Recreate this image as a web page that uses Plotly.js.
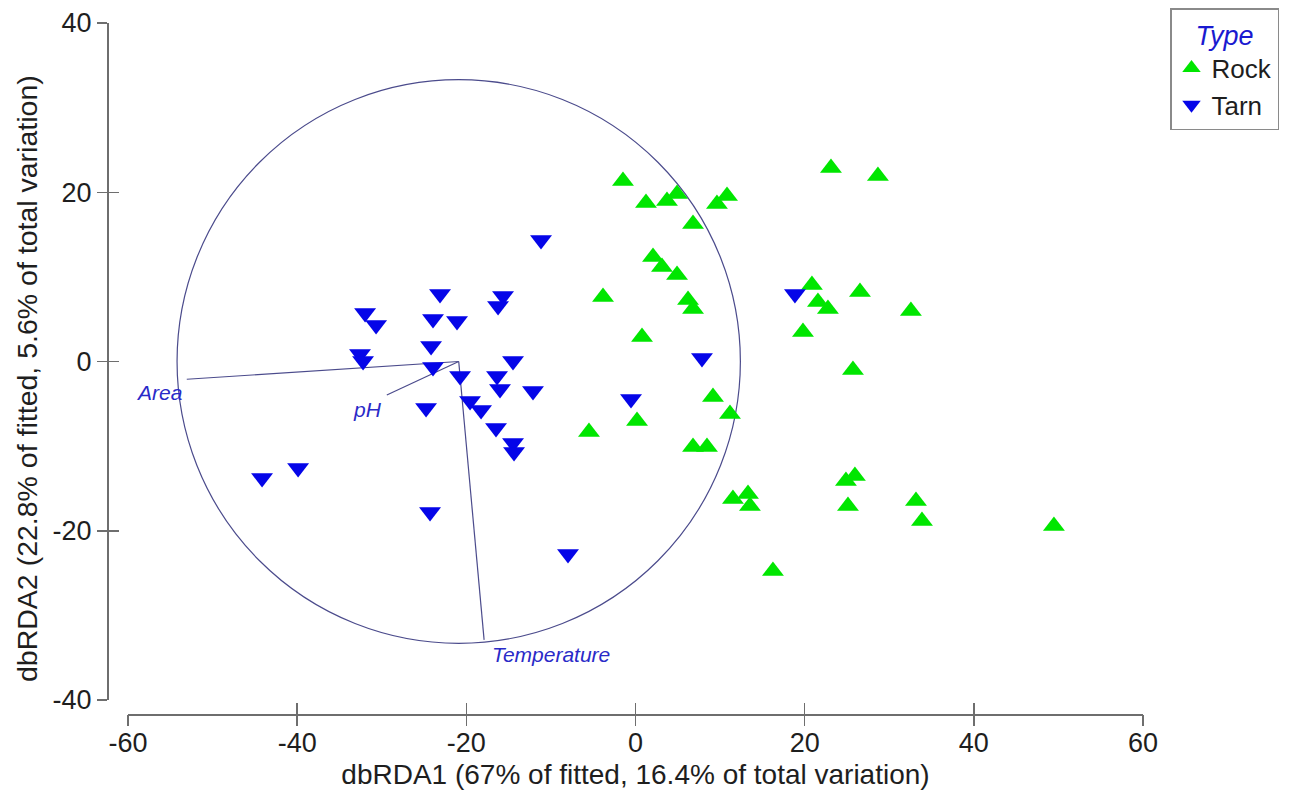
<!DOCTYPE html>
<html><head><meta charset="utf-8">
<script src="https://cdn.plot.ly/plotly-3.0.1.min.js"></script>
<style>html,body{margin:0;padding:0;background:#fff}</style>
</head><body><div id="chart" style="width:1290px;height:793px"></div>
<script>
// Rock samples (dbRDA1, dbRDA2)
const rockX = [-1.48, 1.24, 3.72, 4.91, 6.80, 9.63, 10.82, 23.11, 28.66, 2.07, 3.13, 4.91, -3.84, 6.21, 6.80, 0.77,
  20.86, 21.57, 22.75, 26.54, 32.56, 19.80, 25.71, 9.16, 11.17, 0.18, -5.50, 6.80, 8.45, 11.52, 13.30, 13.53,
  24.88, 25.94, 25.12, 33.16, 33.87, 49.47, 16.25];
const rockY = [21.34, 18.74, 18.97, 19.80, 16.25, 18.62, 19.56, 22.87, 21.93, 12.35, 11.17, 10.22, 7.62, 7.27, 6.21, 2.90,
  9.04, 7.03, 6.21, 8.22, 5.97, 3.49, -1.00, -4.20, -6.21, -7.03, -8.33, -10.11, -10.11, -16.25, -15.66, -17.08,
  -14.13, -13.53, -17.08, -16.49, -18.85, -19.44, -24.76];
// Tarn samples
const tarnX = [-31.97, -30.67, -32.57, -32.21, -44.15, -39.89, -11.17, -23.11, -15.66, -16.25, -23.94, -21.10, -24.17,
  -14.48, -23.94, -20.74, -16.37, -16.02, -12.12, -24.76, -19.56, -18.26, -16.49, -14.48, -14.36, -24.29, -7.98,
  -0.53, 7.86, 18.85];
const tarnY = [5.73, 4.31, 0.89, 0.06, -13.77, -12.59, 14.36, 7.98, 7.74, 6.56, 5.02, 4.79, 1.83,
  0.06, -0.65, -1.71, -1.71, -3.25, -3.49, -5.50, -4.67, -5.73, -7.86, -9.63, -10.70, -17.79, -22.75,
  -4.43, 0.41, 7.98];
// Vector overlay (predictor variables)
const vectorNames = ['Area', 'pH', 'Temperature'];
const vectorEndX = [-53.05, -29.4, -17.9];
const vectorEndY = [-2.10, -3.96, -32.9];
const vectorOrigin = [-20.9, 0];
const circleRadius = 33.3;
// Axis ticks
const xTickVals = [-60, -40, -20, 0, 20, 40, 60];
const xTickText = ['-60', '-40', '-20', '0', '20', '40', '60'];
const yTickVals = [-40, -20, 0, 20, 40];
const yTickText = ['-40', '-20', '0', '20', '40'];
const xTitle = 'dbRDA1 (67% of fitted, 16.4% of total variation)';
const yTitle = 'dbRDA2 (22.8% of fitted, 5.6% of total variation)';

const FONT = 'Liberation Sans, Arial, sans-serif';
const AXC = '#6e6e6e';
const VECC = '#4b4b8c';
const LBLC = '#2a2ac8';
const TXT = '#1e1e1e';

const traces = [];
vectorNames.forEach((n, i) => {
  traces.push({
    type: 'scatter', mode: 'lines', x: [vectorOrigin[0], vectorEndX[i]], y: [vectorOrigin[1], vectorEndY[i]],
    line: {color: VECC, width: 1.2}, showlegend: false, hoverinfo: 'skip'
  });
});
traces.push({
  type: 'scatter', mode: 'markers', name: 'Rock', x: rockX, y: rockY,
  marker: {symbol: 'triangle-up', size: 19, color: '#00e600'}
});
traces.push({
  type: 'scatter', mode: 'markers', name: 'Tarn', x: tarnX, y: tarnY,
  marker: {symbol: 'triangle-down', size: 19, color: '#0505e8'}
});
traces.push({type: 'scatter', x: [], y: [], xaxis: 'x2', yaxis: 'y2', showlegend: false});
traces.push({type: 'scatter', x: [], y: [], xaxis: 'x3', yaxis: 'y', showlegend: false});

const plotW = 1036, plotH = 691;

const annotations = [
  {text: 'Area', x: vectorEndX[0], y: vectorEndY[0], xanchor: 'right', yanchor: 'middle', xshift: -3, yshift: -13},
  {text: 'pH', x: vectorEndX[1], y: vectorEndY[1], xanchor: 'right', yanchor: 'middle', xshift: -3, yshift: -14},
  {text: 'Temperature', x: vectorEndX[2], y: vectorEndY[2], xanchor: 'left', yanchor: 'middle', xshift: 6, yshift: -15}
].map(a => Object.assign(a, {xref: 'x', yref: 'y', showarrow: false,
  font: {family: FONT, size: 21, color: LBLC, style: 'italic'}}));
annotations.push({
  text: yTitle, xref: 'paper', yref: 'paper', x: (27 - 107) / plotW, y: (714 - 379) / plotH,
  xanchor: 'center', yanchor: 'middle', textangle: -90, showarrow: false,
  font: {family: FONT, size: 28.5, color: TXT}
});

const xDomain = [21 / plotW, 1];
const yDomain = [14 / plotH, 1];

const axisCommon = {
  showline: true, linecolor: AXC, linewidth: 1.5, ticks: 'outside', tickcolor: AXC, tickwidth: 1.5,
  showgrid: false, zeroline: false, anchor: 'free', position: 0, automargin: false,
  tickfont: {family: FONT, size: 27, color: TXT}
};
const tickOnly = {anchor: 'free', position: 0, tickcolor: AXC, tickwidth: 1.5, showticklabels: false,
  showline: false, showgrid: false, zeroline: false};

const layout = {
  width: 1290, height: 793,
  margin: {l: 107, r: 147, t: 23, b: 79, pad: 0, autoexpand: false},
  paper_bgcolor: '#ffffff', plot_bgcolor: '#ffffff',
  font: {family: FONT, color: TXT},
  xaxis: Object.assign({}, axisCommon, {
    range: [-60, 60], domain: xDomain, tickvals: xTickVals, ticktext: xTickText, ticklen: 4,
    title: {text: xTitle, font: {family: FONT, size: 28, color: TXT}, standoff: 7}
  }),
  yaxis: Object.assign({}, axisCommon, {
    range: [-40, 40], domain: yDomain, tickvals: yTickVals, ticktext: yTickText, ticklen: 10
  }),
  xaxis2: Object.assign({}, tickOnly, {overlaying: 'x', range: [-60, 60], tickvals: xTickVals, ticks: 'inside', ticklen: 11}),
  xaxis3: Object.assign({}, tickOnly, {overlaying: 'x', range: [-60, 60], tickvals: xTickVals, ticks: 'outside', ticklen: 11}),
  yaxis2: Object.assign({}, tickOnly, {overlaying: 'y', range: [-40, 40], tickvals: yTickVals, ticks: 'inside', ticklen: 11}),
  shapes: [{
    type: 'circle', xref: 'x', yref: 'y', layer: 'below',
    x0: vectorOrigin[0] - circleRadius, x1: vectorOrigin[0] + circleRadius,
    y0: vectorOrigin[1] - circleRadius, y1: vectorOrigin[1] + circleRadius,
    line: {color: VECC, width: 1.2}
  }],
  annotations: annotations,
  legend: {
    x: (1170 - 107) / plotW, y: (714 - 8) / plotH, xanchor: 'left', yanchor: 'top',
    bgcolor: '#ffffff', bordercolor: '#8a8a8a', borderwidth: 1.5, tracegroupgap: 0,
    font: {family: FONT, size: 26, color: TXT},
    title: {text: 'Type', side: 'top center', font: {family: FONT, size: 27, color: '#1a1ad0', style: 'italic'}}
  },
  showlegend: true
};

Plotly.newPlot('chart', traces, layout, {displayModeBar: false, staticPlot: true});
</script>
</body></html>
